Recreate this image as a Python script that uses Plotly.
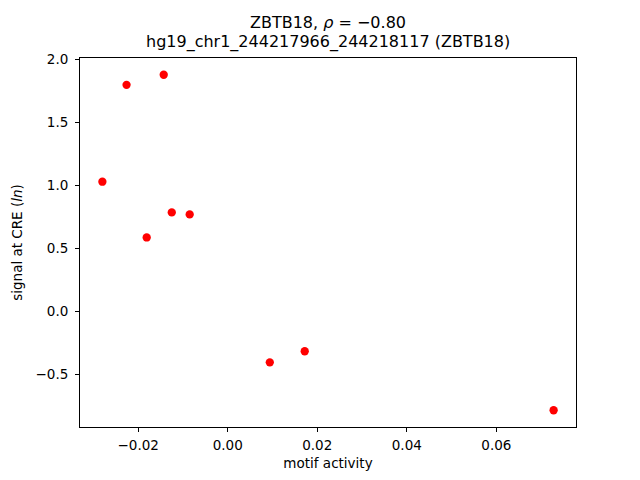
import plotly.graph_objects as go

motif_activity = [-0.0226, -0.0143, -0.0280, -0.0125, -0.0085, -0.0181, 0.0094, 0.0172, 0.0728]
signal = [1.80, 1.88, 1.03, 0.786, 0.77, 0.587, -0.405, -0.317, -0.786]

x_ticks = [-0.02, 0.00, 0.02, 0.04, 0.06]
y_ticks = [-0.5, 0.0, 0.5, 1.0, 1.5, 2.0]

fig = go.Figure()
fig.add_trace(go.Scatter(
    x=motif_activity, y=signal, mode="markers",
    marker=dict(color="red", size=8.3, line=dict(width=0)),
))

font = "DejaVu Sans"
fig.update_layout(
    width=640, height=480,
    paper_bgcolor="white", plot_bgcolor="white",
    margin=dict(l=72, r=72, t=50, b=61, autoexpand=False),
    showlegend=False,
    font=dict(family=font, size=13, color="black"),
    xaxis=dict(
        range=[-0.0330, 0.0778], tickvals=x_ticks, tickformat=".2f",
        showgrid=False, zeroline=False, automargin=False,
        showline=True, linecolor="black", linewidth=1, mirror=True,
        ticks="outside", ticklen=4, tickcolor="black", ticklabelstandoff=2,
        title=dict(text="motif activity", font=dict(size=13.5), standoff=6),
        tickfont=dict(size=13.5),
    ),
    yaxis=dict(
        range=[-0.919, 2.013], tickvals=y_ticks, tickformat=".1f",
        showgrid=False, zeroline=False, automargin=False,
        showline=True, linecolor="black", linewidth=1, mirror=True,
        ticks="outside", ticklen=4, tickcolor="black", ticklabelstandoff=4,
        title=dict(text="signal at CRE (<i>ln</i>)", font=dict(size=13.5), standoff=9),
        tickfont=dict(size=13.5),
    ),
    annotations=[
        dict(text="ZBTB18, <i>ρ</i> = −0.80", xref="paper", yref="paper",
             x=0.5, y=1.0, xanchor="center", yanchor="bottom", yshift=24,
             showarrow=False, font=dict(family=font, size=16)),
        dict(text="hg19_chr1_244217966_244218117 (ZBTB18)", xref="paper", yref="paper",
             x=0.5, y=1.0, xanchor="center", yanchor="bottom", yshift=4,
             showarrow=False, font=dict(family=font, size=16)),
    ],
)

fig.write_html("out.html")
